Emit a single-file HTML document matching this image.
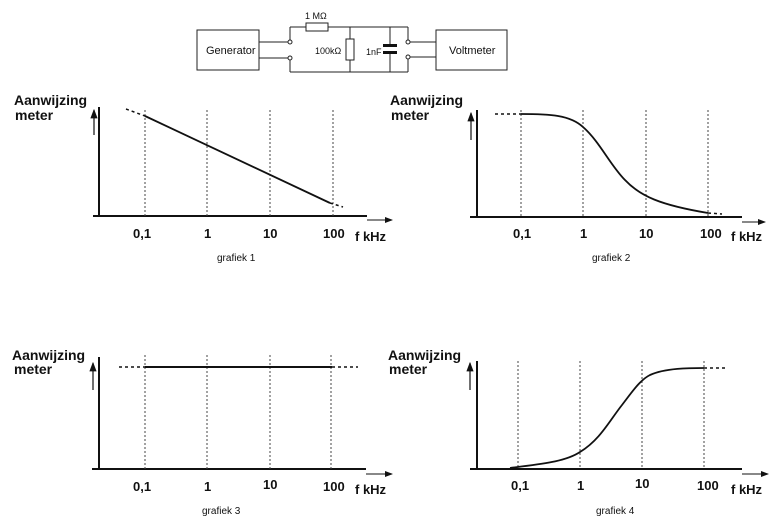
<!DOCTYPE html>
<html><head><meta charset="utf-8"><style>
html,body{margin:0;padding:0;background:#fff;}
svg{display:block;}
text{font-family:"Liberation Sans",Arial,sans-serif;fill:#111;}
.b{font-weight:bold;font-size:14px;}
.t{font-weight:bold;font-size:13px;}
.s{font-size:10px;}
.c{font-size:9px;}
</style></head><body>
<svg width="784" height="527" viewBox="0 0 784 527" xmlns="http://www.w3.org/2000/svg">
<defs><marker id="ah" markerWidth="8" markerHeight="6" refX="7" refY="3" orient="auto"><path d="M0,0 L8,3 L0,6 z" fill="#111"/></marker></defs>
<!-- circuit -->
<g stroke="#222" stroke-width="1" fill="none">
<rect x="197" y="30" width="62" height="40"/>
<rect x="436" y="30" width="71" height="40"/>
<line x1="259" y1="42" x2="288" y2="42"/><line x1="259" y1="58" x2="288" y2="58"/>
<circle cx="290" cy="42" r="2"/><circle cx="290" cy="58" r="2"/>
<line x1="290" y1="27" x2="290" y2="40"/><line x1="290" y1="60" x2="290" y2="72"/>
<line x1="290" y1="27" x2="306" y2="27"/><rect x="306" y="23" width="22" height="8"/><line x1="328" y1="27" x2="408" y2="27"/>
<line x1="290" y1="72" x2="408" y2="72"/>
<rect x="346" y="39" width="8" height="21"/><line x1="350" y1="27" x2="350" y2="39"/><line x1="350" y1="60" x2="350" y2="72"/>
<line x1="390" y1="27" x2="390" y2="45"/><line x1="390" y1="52" x2="390" y2="72"/>
<line x1="408" y1="27" x2="408" y2="40"/><line x1="408" y1="59" x2="408" y2="72"/>
<circle cx="408" cy="42" r="2"/><circle cx="408" cy="57" r="2"/>
<line x1="410" y1="42" x2="436" y2="42"/><line x1="410" y1="57" x2="436" y2="57"/>
</g>
<rect x="383" y="44" width="14" height="3" fill="#111"/><rect x="383" y="51" width="14" height="3" fill="#111"/>
<text class="c" x="305" y="19">1 MΩ</text>
<text class="c" x="315" y="54">100kΩ</text>
<text class="c" x="366" y="55">1nF</text>
<text x="206" y="54" style="font-size:11px">Generator</text>
<text x="449" y="54" style="font-size:11px">Voltmeter</text>

<g id="g1">
<text class="b" x="14" y="105">Aanwijzing</text><text class="b" x="15" y="120">meter</text>
<line x1="94" y1="135" x2="94" y2="110" stroke="#111" stroke-width="1.2" marker-end="url(#ah)"/>
<line x1="99" y1="107" x2="99" y2="217" stroke="#111" stroke-width="2"/>
<line x1="93" y1="216" x2="367" y2="216" stroke="#111" stroke-width="2"/>
<line x1="367" y1="220" x2="392" y2="220" stroke="#111" stroke-width="1" marker-end="url(#ah)"/>
<g stroke="#444" stroke-width="1" stroke-dasharray="2,2"><line x1="145" y1="110" x2="145" y2="216"/><line x1="207" y1="110" x2="207" y2="216"/><line x1="270" y1="110" x2="270" y2="216"/><line x1="333" y1="110" x2="333" y2="216"/></g>
<line x1="145" y1="116" x2="330" y2="203" stroke="#111" stroke-width="1.8"/>
<line x1="126" y1="109" x2="145" y2="116" stroke="#111" stroke-width="1.5" stroke-dasharray="3,3"/>
<line x1="330" y1="203" x2="343" y2="207" stroke="#111" stroke-width="1.5" stroke-dasharray="3,3"/>
<text class="t" x="133" y="238">0,1</text><text class="t" x="204" y="238">1</text><text class="t" x="263" y="238">10</text><text class="t" x="323" y="238">100</text>
<text class="t" x="355" y="241">f kHz</text>
<text class="s" x="217" y="261">grafiek 1</text>
</g>

<g>
<text class="b" x="390" y="105">Aanwijzing</text><text class="b" x="391" y="120">meter</text>
<line x1="471" y1="140" x2="471" y2="113" stroke="#111" stroke-width="1.2" marker-end="url(#ah)"/>
<line x1="477" y1="110" x2="477" y2="218" stroke="#111" stroke-width="2"/>
<line x1="470" y1="217" x2="742" y2="217" stroke="#111" stroke-width="2"/>
<line x1="742" y1="222" x2="765" y2="222" stroke="#111" stroke-width="1" marker-end="url(#ah)"/>
<g stroke="#444" stroke-width="1" stroke-dasharray="2,2"><line x1="521" y1="110" x2="521" y2="217"/><line x1="583" y1="110" x2="583" y2="217"/><line x1="646" y1="110" x2="646" y2="217"/><line x1="708" y1="110" x2="708" y2="217"/></g>
<path d="M521,114 C550,114 570,115 583,127 C600,142 610,165 625,180 C640,196 660,205 708,213" stroke="#111" stroke-width="1.8" fill="none"/>
<line x1="495" y1="114" x2="521" y2="114" stroke="#111" stroke-width="1.5" stroke-dasharray="3,3"/>
<line x1="708" y1="213" x2="722" y2="214" stroke="#111" stroke-width="1.5" stroke-dasharray="3,3"/>
<text class="t" x="513" y="238">0,1</text><text class="t" x="580" y="238">1</text><text class="t" x="639" y="238">10</text><text class="t" x="700" y="238">100</text>
<text class="t" x="731" y="241">f kHz</text>
<text class="s" x="592" y="261">grafiek 2</text>
</g>

<g>
<text class="b" x="12" y="360">Aanwijzing</text><text class="b" x="14" y="374">meter</text>
<line x1="93" y1="390" x2="93" y2="363" stroke="#111" stroke-width="1.2" marker-end="url(#ah)"/>
<line x1="99" y1="357" x2="99" y2="470" stroke="#111" stroke-width="2"/>
<line x1="92" y1="469" x2="366" y2="469" stroke="#111" stroke-width="2"/>
<line x1="366" y1="474" x2="392" y2="474" stroke="#111" stroke-width="1" marker-end="url(#ah)"/>
<g stroke="#444" stroke-width="1" stroke-dasharray="2,2"><line x1="145" y1="355" x2="145" y2="469"/><line x1="207" y1="355" x2="207" y2="469"/><line x1="270" y1="355" x2="270" y2="469"/><line x1="331" y1="355" x2="331" y2="469"/></g>
<line x1="145" y1="367" x2="332" y2="367" stroke="#111" stroke-width="2"/>
<line x1="119" y1="367" x2="145" y2="367" stroke="#111" stroke-width="1.5" stroke-dasharray="3,3"/>
<line x1="332" y1="367" x2="358" y2="367" stroke="#111" stroke-width="1.5" stroke-dasharray="3,3"/>
<text class="t" x="133" y="491">0,1</text><text class="t" x="204" y="491">1</text><text class="t" x="263" y="489">10</text><text class="t" x="323" y="491">100</text>
<text class="t" x="355" y="494">f kHz</text>
<text class="s" x="202" y="514">grafiek 3</text>
</g>

<g>
<text class="b" x="388" y="360">Aanwijzing</text><text class="b" x="389" y="374">meter</text>
<line x1="470" y1="390" x2="470" y2="363" stroke="#111" stroke-width="1.2" marker-end="url(#ah)"/>
<line x1="477" y1="361" x2="477" y2="470" stroke="#111" stroke-width="2"/>
<line x1="470" y1="469" x2="742" y2="469" stroke="#111" stroke-width="2"/>
<line x1="742" y1="474" x2="768" y2="474" stroke="#111" stroke-width="1" marker-end="url(#ah)"/>
<g stroke="#444" stroke-width="1" stroke-dasharray="2,2"><line x1="518" y1="361" x2="518" y2="469"/><line x1="580" y1="361" x2="580" y2="469"/><line x1="642" y1="361" x2="642" y2="469"/><line x1="704" y1="361" x2="704" y2="469"/></g>
<path d="M510,468 C540,464 565,462 580,452 C600,440 610,420 622,405 C632,392 640,380 650,375 C665,368 690,368 704,368" stroke="#111" stroke-width="1.8" fill="none"/>
<line x1="704" y1="368" x2="726" y2="368" stroke="#111" stroke-width="1.5" stroke-dasharray="3,3"/>
<text class="t" x="511" y="490">0,1</text><text class="t" x="577" y="490">1</text><text class="t" x="635" y="488">10</text><text class="t" x="697" y="490">100</text>
<text class="t" x="731" y="494">f kHz</text>
<text class="s" x="596" y="514">grafiek 4</text>
</g>
</svg>
</body></html>
